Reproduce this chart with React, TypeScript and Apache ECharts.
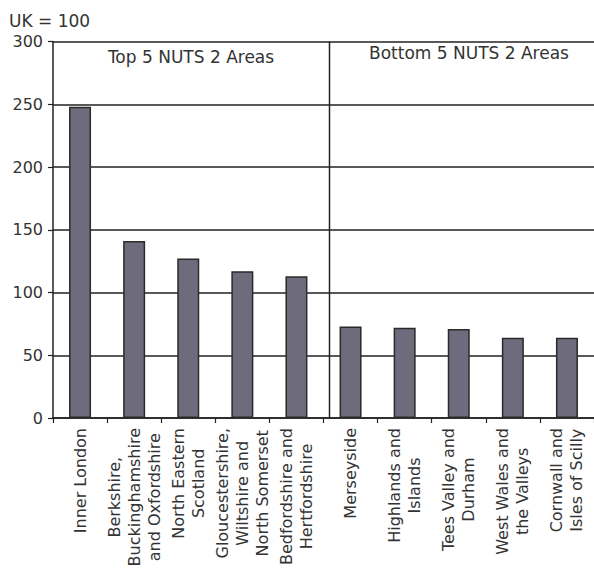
import React, { useEffect, useRef } from "react";
import * as echarts from "echarts";

const categories: string[] = [
  "Inner London",
  "Berkshire,\nBuckinghamshire\nand Oxfordshire",
  "North Eastern\nScotland",
  "Gloucestershire,\nWiltshire and\nNorth Somerset",
  "Bedfordshire and\nHertfordshire",
  "Merseyside",
  "Highlands and\nIslands",
  "Tees Valley and\nDurham",
  "West Wales and\nthe Valleys",
  "Cornwall and\nIsles of Scilly",
];

const values: number[] = [248, 141, 127, 117, 113, 73, 72, 71, 64, 64];

const yTicks = { min: 0, max: 300, interval: 50 };
const unitLabel = "UK = 100";
const groupTitles = ["Top 5 NUTS 2 Areas", "Bottom 5 NUTS 2 Areas"];

const FONT = "DejaVu Sans";
const TEXT = "#333";
const LINE = "#222";

export default function App() {
  const ref = useRef<HTMLDivElement>(null);

  useEffect(() => {
    if (!ref.current) return;
    const chart = echarts.init(ref.current, undefined, { renderer: "svg" });
    chart.setOption({
      animation: false,
      backgroundColor: "#fff",
      grid: { left: 53, right: -1, top: 41.5, bottom: 152 },
      xAxis: {
        type: "category",
        data: categories,
        axisLine: { show: true, lineStyle: { color: LINE, width: 1.5 } },
        axisTick: { show: true, length: 5, alignWithLabel: false, lineStyle: { color: LINE, width: 1.2 } },
        axisLabel: {
          interval: 0,
          rotate: 90,
          margin: 10,
          hideOverlap: false,
          color: TEXT,
          fontFamily: FONT,
          fontSize: 16,
          formatter: (v: string) =>
            v
              .split("\n")
              .map((l) => `{c|${l}}`)
              .join("\n"),
          rich: {
            c: { align: "center", fontFamily: FONT, fontSize: 16, lineHeight: 20, color: TEXT },
          },
        },
      },
      yAxis: {
        type: "value",
        min: yTicks.min,
        max: yTicks.max,
        interval: yTicks.interval,
        axisLine: { show: true, lineStyle: { color: LINE, width: 1.5 } },
        axisTick: { show: true, length: 5, lineStyle: { color: LINE, width: 1.2 } },
        axisLabel: { margin: 10, color: TEXT, fontFamily: FONT, fontSize: 16 },
        splitLine: { show: true, lineStyle: { color: LINE, width: 1.5 } },
      },
      series: [
        {
          type: "bar",
          data: values,
          barWidth: 22,
          itemStyle: { color: "#6e6c7c", borderColor: "#2a2a2a", borderWidth: 1.5 },
        },
      ],
    });

    const xa = chart.convertToPixel({ xAxisIndex: 0 }, categories[4]) as number;
    const xb = chart.convertToPixel({ xAxisIndex: 0 }, categories[5]) as number;
    const yTop = chart.convertToPixel({ yAxisIndex: 0 }, yTicks.max) as number;
    const yBot = chart.convertToPixel({ yAxisIndex: 0 }, yTicks.min) as number;
    const xd = (xa + xb) / 2 + 6;

    chart.setOption({
      graphic: [
        {
          id: "divider",
          type: "line",
          shape: { x1: xd, y1: yTop, x2: xd, y2: yBot },
          style: { stroke: LINE, lineWidth: 1.5 },
          z: 10,
        },
        {
          id: "unit",
          type: "text",
          x: 9,
          y: 12,
          style: { text: unitLabel, fill: TEXT, font: `17px "${FONT}"` },
        },
        {
          id: "t1",
          type: "text",
          x: 191,
          y: 57,
          style: { text: groupTitles[0], fill: TEXT, font: `17px "${FONT}"`, textAlign: "center", textVerticalAlign: "middle" },
        },
        {
          id: "t2",
          type: "text",
          x: 469,
          y: 53,
          style: { text: groupTitles[1], fill: TEXT, font: `17px "${FONT}"`, textAlign: "center", textVerticalAlign: "middle" },
        },
      ],
    });

    return () => chart.dispose();
  }, []);

  return <div ref={ref} style={{ width: 594, height: 570, position: "absolute", left: 0, top: 0 }} />;
}
